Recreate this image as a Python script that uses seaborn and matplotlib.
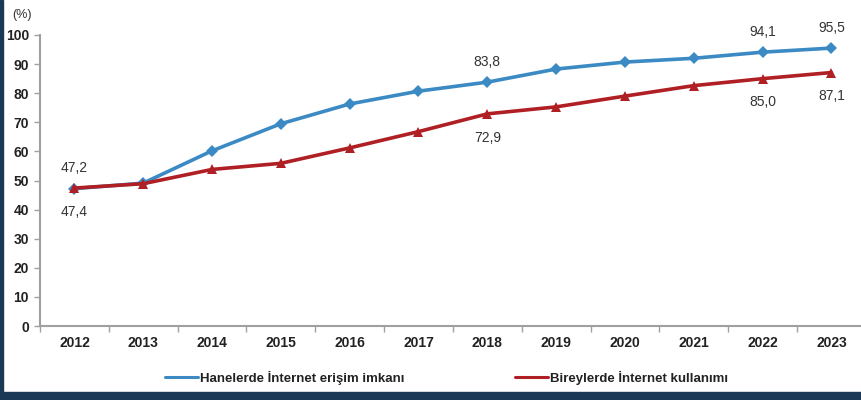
import matplotlib
matplotlib.use("Agg")
import matplotlib.pyplot as plt
import seaborn as sns
import pandas as pd
from matplotlib.patches import Rectangle
from matplotlib.lines import Line2D

years = ["2012", "2013", "2014", "2015", "2016", "2017", "2018", "2019", "2020", "2021", "2022", "2023"]
households = [47.2, 49.1, 60.2, 69.5, 76.3, 80.7, 83.8, 88.3, 90.7, 92.0, 94.1, 95.5]
individuals = [47.4, 48.9, 53.8, 55.9, 61.2, 66.8, 72.9, 75.3, 79.0, 82.6, 85.0, 87.1]
series_names = ["Hanelerde İnternet erişim imkanı", "Bireylerde İnternet kullanımı"]
labeled_years = ["2012", "2018", "2022", "2023"]
y_ticks = [0, 10, 20, 30, 40, 50, 60, 70, 80, 90, 100]

blue = "#3b8ac4"
red = "#b01f24"

df = pd.DataFrame({
    "year": years * 2,
    "value": households + individuals,
    "series": [series_names[0]] * len(years) + [series_names[1]] * len(years),
})

sns.set_theme(style="white")
plt.rcParams["font.family"] = ["Liberation Sans", "DejaVu Sans"]

fig = plt.figure(figsize=(8.61, 4.0), dpi=100)
ax = fig.add_axes([40 / 861, 1 - 326 / 400, 1 - 40 / 861, (326 - 35) / 400])

sns.lineplot(data=df, x="year", y="value", hue="series", style="series",
             palette={series_names[0]: blue, series_names[1]: red},
             markers={series_names[0]: "D", series_names[1]: "^"},
             dashes=False, linewidth=2.6, markersize=6.5, markeredgewidth=0,
             ax=ax, legend=False, sort=False)

ax.set_ylim(0, 100)
ax.set_yticks(y_ticks)
ax.set_xlim(-0.5, 11.43)
ax.set_xlabel("")
ax.set_ylabel("")
for s in ["top", "right"]:
    ax.spines[s].set_visible(False)
for s in ["left", "bottom"]:
    ax.spines[s].set_color("#a0a0a0")
    ax.spines[s].set_linewidth(1.5)

ax.set_xticks(range(len(years)))
ax.set_xticklabels(years)
ax.set_xticks([i + 0.5 for i in range(-1, len(years) - 1)], minor=True)
ax.tick_params(axis="x", which="major", length=0, pad=7, labelsize=10, labelcolor="#222222")
ax.tick_params(axis="x", which="minor", length=4, width=1, color="#a0a0a0", direction="out", bottom=True)
ax.tick_params(axis="y", length=4, width=1, color="#a0a0a0", direction="out", left=True,
               pad=4, labelsize=10, labelcolor="#222222")
for lab in ax.get_xticklabels() + ax.get_yticklabels():
    lab.set_fontweight("bold")

for i, y in enumerate(years):
    if y in labeled_years:
        ax.annotate(f"{households[i]:.1f}".replace(".", ","), (i, households[i]),
                    xytext=(0, 9.5), textcoords="offset points", ha="center", va="bottom",
                    fontsize=10, color="#333333")
        ax.annotate(f"{individuals[i]:.1f}".replace(".", ","), (i, individuals[i]),
                    xytext=(0, -12), textcoords="offset points", ha="center", va="top",
                    fontsize=10, color="#333333")

fig.text(22 / 861, 1 - 15 / 400, "(%)", ha="center", va="center", fontsize=9, color="#333333")

handles = [Line2D([0], [0], color=blue, lw=2.2), Line2D([0], [0], color=red, lw=2.2)]
fig.legend(handles, series_names, ncol=2, loc="center left",
           bbox_to_anchor=(153 / 861, 1 - 378 / 400), frameon=False,
           prop={"size": 9.5, "weight": "bold"}, handlelength=2.5, handletextpad=0.15,
           columnspacing=8.4, labelcolor="#222222")

fig.patches.append(Rectangle((0, 0), 3 / 861, 1, transform=fig.transFigure,
                             color="#1b3957", zorder=10))
fig.patches.append(Rectangle((0, 0), 1, 8 / 400, transform=fig.transFigure,
                             color="#1b3957", zorder=10))

fig.savefig("out.png", dpi=100)
